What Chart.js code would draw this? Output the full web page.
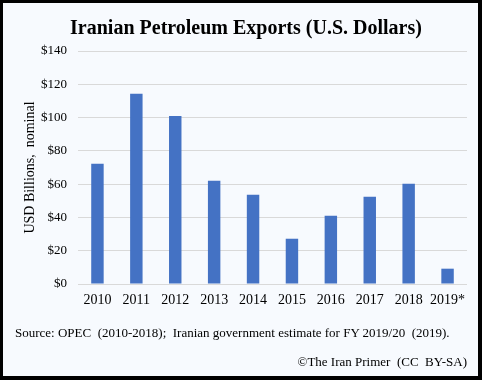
<!DOCTYPE html>
<html>
<head>
<meta charset="utf-8">
<script src="https://cdn.jsdelivr.net/npm/chart.js@4/dist/chart.umd.min.js"></script>
<style>
  html, body { margin: 0; padding: 0; width: 482px; height: 380px; overflow: hidden; background: #000; }
  #frame { position: absolute; left: 0; top: 0; width: 482px; height: 380px; box-sizing: border-box;
           border-style: solid; border-color: #000; border-width: 3px 4px 4px 3px; background: #F7FAFE; }
  #wrap { position: absolute; left: 0; top: 0; width: 482px; height: 380px; }
  .note { position: absolute; font-family: "Liberation Serif", "Times New Roman", serif; font-size: 13px; color: #000; white-space: pre; }
  #source { left: 15px; top: 325px; }
  #credit { right: 15px; top: 354px; }
</style>
</head>
<body>
<div id="frame"></div>
<div id="wrap"><canvas id="c" width="482" height="380"></canvas></div>
<div class="note" id="source">Source: OPEC  (2010-2018);  Iranian government estimate for FY 2019/20  (2019).</div>
<div class="note" id="credit">©The Iran Primer  (CC  BY-SA)</div>
<script>
const categories = ["2010", "2011", "2012", "2013", "2014", "2015", "2016", "2017", "2018", "2019*"];
const exportsBillions = [72.2, 114.3, 101.0, 62.0, 53.6, 27.2, 41.0, 52.4, 60.2, 9.2];
const yTickValues = [0, 20, 40, 60, 80, 100, 120, 140];
const chartTitle = "Iranian Petroleum Exports (U.S. Dollars)";
const yAxisTitle = "USD Billions,  nominal";

const serif = "'Liberation Serif', 'Times New Roman', serif";

new Chart(document.getElementById('c'), {
  type: 'bar',
  data: {
    labels: categories,
    datasets: [{
      data: exportsBillions,
      backgroundColor: '#4472C4',
      borderWidth: 0,
      barPercentage: 1,
      categoryPercentage: 0.32
    }]
  },
  options: {
    responsive: false,
    animation: false,
    events: [],
    layout: { padding: { left: 25, right: 15, top: 0, bottom: 66 } },
    plugins: {
      legend: { display: false },
      tooltip: { enabled: false },
      title: {
        display: true,
        text: chartTitle,
        color: '#000',
        font: { family: serif, size: 20, weight: 'bold', lineHeight: 1.2 },
        padding: { top: 17, bottom: 10 }
      }
    },
    scales: {
      x: {
        grid: { display: false, drawTicks: false },
        border: { display: false },
        ticks: { color: '#000', font: { family: serif, size: 14 }, padding: 8, maxRotation: 0, autoSkip: false },
        afterFit: (s) => { s.height = 30; }
      },
      y: {
        min: 0, max: 140,
        afterBuildTicks: (s) => { s.ticks = yTickValues.map(v => ({ value: v })); },
        grid: { color: '#D9D9D9', lineWidth: 1, drawTicks: false },
        border: { display: false },
        ticks: { color: '#000', font: { family: serif, size: 13 }, padding: 11,
                 callback: (v) => '$' + v },
        title: { display: true, text: yAxisTitle, color: '#000',
                 font: { family: serif, size: 14 }, padding: { top: -3, bottom: 0 } },
        afterFit: (s) => { s.width = 53; }
      }
    }
  }
});
</script>
</body>
</html>
